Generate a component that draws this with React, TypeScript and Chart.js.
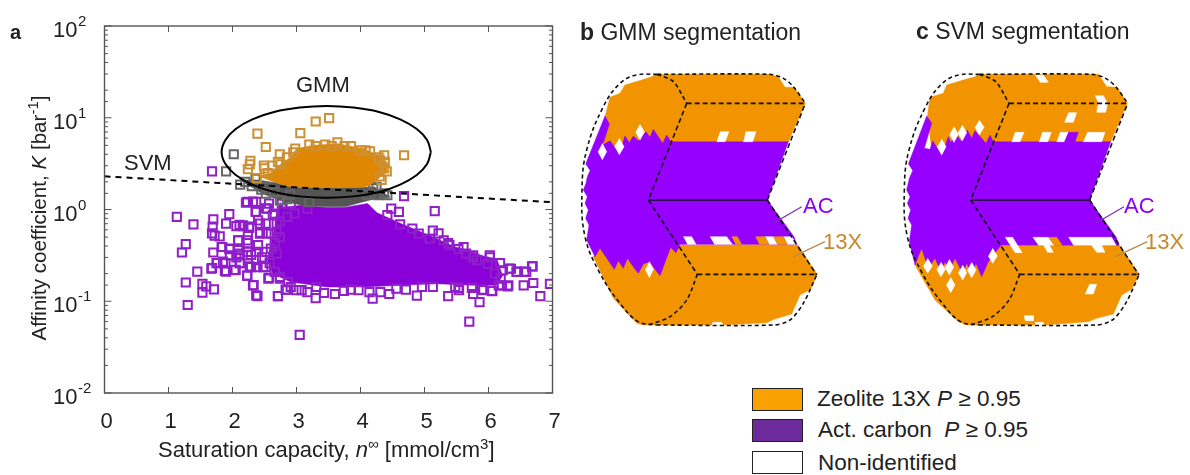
import React, { useEffect, useLayoutEffect, useRef } from "react";
import { Chart, registerables } from "chart.js";

Chart.register(...registerables);

type P = [number, number];

const xTickValues = [0, 1, 2, 3, 4, 5, 6, 7];
const yDecades = [0.01, 0.1, 1, 10, 100];
const yExponents = ["-2", "-1", "0", "1", "2"];

const svmBoundary: P[] = [[0, 2.3], [7, 1.2]];
const gmmEllipse: P[] = [[5.1, 4.24], [5.04, 5.73], [4.88, 7.55], [4.62, 9.62], [4.29, 11.56], [3.89, 12.9], [3.47, 13.4], [3.05, 12.9], [2.65, 11.56], [2.31, 9.62], [2.05, 7.55], [1.89, 5.73], [1.83, 4.24], [1.89, 3.13], [2.05, 2.38], [2.31, 1.87], [2.65, 1.55], [3.05, 1.39], [3.47, 1.34], [3.89, 1.39], [4.29, 1.55], [4.62, 1.87], [4.88, 2.38], [5.04, 3.13], [5.1, 4.24]];

const orangeCloud: P[] = [[2.4, 2.3], [2.6, 2.5], [2.69, 2.9], [2.91, 3.73], [3.0, 4.6], [3.26, 5.0], [3.65, 5.2], [4.05, 4.6], [4.28, 3.9], [4.41, 3.3], [4.41, 2.57], [4.15, 1.85], [4.05, 1.75], [3.48, 1.72], [2.91, 1.76], [2.69, 1.95]];
const greyCloud: P[] = [[2.11, 2.1], [2.4, 2.1], [2.69, 1.95], [2.91, 1.76], [3.48, 1.72], [4.05, 1.75], [4.22, 1.76], [4.46, 1.37], [4.15, 1.27], [3.77, 1.08], [3.48, 1.07], [3.08, 1.11], [2.74, 1.26], [2.46, 1.49]];
const purpleCloud: P[] = [[2.74, 1.21], [2.8, 1.06], [3.08, 1.11], [3.48, 1.05], [3.77, 1.06], [4.11, 1.16], [4.26, 0.92], [4.62, 0.71], [5.08, 0.52], [5.48, 0.39], [5.61, 0.37], [5.93, 0.31], [6.13, 0.29], [6.22, 0.19], [6.13, 0.15], [5.76, 0.149], [5.19, 0.155], [4.62, 0.149], [4.05, 0.143], [3.48, 0.143], [2.91, 0.162], [2.63, 0.2], [2.54, 0.279], [2.6, 0.425], [2.66, 0.645]];

const purplePoints: P[] = [[1.13, 0.83], [1.39, 0.69], [1.7, 0.78], [1.69, 0.65], [1.95, 0.89], [1.9, 0.7], [2.06, 0.66], [2.16, 0.67], [2.26, 0.63], [1.68, 0.55], [1.8, 0.51], [1.72, 0.52], [1.27, 0.42], [1.21, 0.34], [1.7, 0.34], [1.83, 0.39], [1.95, 0.37], [2.09, 0.46], [2.12, 0.33], [1.76, 0.26], [1.89, 0.26], [1.68, 0.23], [1.9, 0.21], [2.05, 0.22], [2.12, 0.26], [2.29, 0.235], [2.23, 0.19], [1.45, 0.21], [1.27, 0.16], [1.53, 0.155], [1.59, 0.145], [1.53, 0.124], [1.71, 0.135], [1.3, 0.091], [2.33, 0.15], [2.39, 0.114], [2.57, 0.18], [2.71, 0.114], [2.85, 0.134], [3.05, 0.043], [3.08, 0.132], [3.3, 0.108], [3.17, 0.126], [3.43, 0.123], [3.6, 0.12], [3.74, 0.13], [3.85, 0.134], [4.14, 0.126], [4.19, 0.107], [4.31, 0.126], [4.45, 0.12], [4.71, 0.134], [4.88, 0.115], [5.13, 0.143], [5.37, 0.114], [5.54, 0.132], [5.7, 0.06], [5.76, 0.12], [5.86, 0.098], [5.92, 0.132], [6.06, 0.129], [6.16, 0.149], [6.3, 0.145], [6.35, 0.226], [6.44, 0.21], [6.56, 0.21], [6.69, 0.24], [6.55, 0.149], [6.7, 0.158], [6.81, 0.114], [6.96, 0.155], [6.19, 0.176], [6.02, 0.3], [5.76, 0.3], [5.16, 0.96], [4.68, 1.4], [4.6, 0.94], [4.48, 1.02], [4.42, 0.87], [4.62, 0.69], [4.81, 0.62], [5.13, 0.59], [5.22, 0.55], [5.3, 0.46], [5.53, 0.37], [1.68, 2.6],
  [2.23, 1.21], [2.37, 1.21], [2.57, 1.16], [2.37, 0.94], [2.54, 1.02], [2.66, 0.9], [2.77, 1.16], [2.4, 0.76], [2.52, 0.7], [2.69, 0.7], [2.86, 0.83], [2.43, 0.545], [2.6, 0.545], [2.74, 0.5], [2.23, 0.46], [2.4, 0.41], [2.6, 0.375], [2.69, 0.33], [2.29, 0.32], [2.46, 0.3], [2.06, 0.3], [2.37, 0.236], [2.52, 0.236], [2.97, 0.9], [3.17, 1.02], [2.91, 1.16],
  [4.91, 0.545], [5.08, 0.48], [5.39, 0.41], [5.65, 0.33], [5.82, 0.28], [5.99, 0.256], [6.22, 0.217], [6.1, 0.2], [5.48, 0.143], [4.96, 0.143], [4.56, 0.137], [3.97, 0.132], [3.31, 0.143], [2.91, 0.143], [2.74, 0.184],
  [2.17, 0.66], [2.26, 0.65], [2.11, 0.68], [2.43, 0.7], [2.36, 0.95], [2.21, 1.19], [2.32, 1.22], [2.52, 1.03], [2.63, 0.87], [2.74, 0.74], [2.69, 0.57], [2.43, 0.56], [2.24, 0.53], [2.09, 0.46], [2.24, 0.43], [1.84, 0.39], [1.96, 0.376], [2.09, 0.36], [2.23, 0.345], [2.37, 0.345], [2.53, 0.345], [1.96, 0.316], [2.11, 0.316], [2.24, 0.316], [2.37, 0.28], [1.85, 0.27], [1.75, 0.26], [2.11, 0.26], [2.27, 0.24], [2.48, 0.236], [1.67, 0.227], [1.88, 0.214], [2.03, 0.218], [2.23, 0.19], [2.56, 0.176], [2.74, 0.176], [2.32, 0.149], [2.37, 0.116], [2.71, 0.114], [2.83, 0.134], [3.0, 0.132], [2.87, 0.162], [2.66, 0.209], [2.58, 0.26], [2.66, 0.43], [2.53, 0.55],
  [5.37, 0.43], [5.61, 0.39], [5.76, 0.316], [6.02, 0.316], [6.18, 0.26], [6.33, 0.227], [6.44, 0.209], [6.59, 0.209], [6.68, 0.24], [6.31, 0.149], [6.21, 0.149], [5.9, 0.134], [6.05, 0.13], [5.74, 0.14], [5.53, 0.14]];
const orangePoints: P[] = [[3.51, 9.9], [3.3, 9.1], [2.39, 6.7], [3.06, 6.8], [2.52, 4.8], [2.74, 4.0], [4.68, 3.9], [2.28, 3.4], [2.27, 3.1], [2.24, 2.75], [2.49, 3.0], [2.5, 2.8], [2.71, 3.3], [2.98, 4.6], [3.2, 5.1], [3.45, 5.1], [3.64, 5.4], [3.85, 4.9], [4.08, 4.4], [4.37, 3.9], [4.28, 3.7], [4.37, 2.8], [4.33, 2.1],
  [2.38, 2.2], [2.55, 2.5], [2.62, 3.0], [2.75, 3.1], [2.85, 3.7], [2.95, 4.2], [3.3, 4.9], [3.55, 4.9], [3.75, 4.9], [4.0, 4.4], [4.15, 4.3], [4.3, 3.5], [4.38, 3.3], [4.41, 2.6], [4.3, 2.3]];
const greyPoints: P[] = [[2.02, 4.0], [1.9, 2.6], [2.12, 1.87], [2.36, 2.16], [2.2, 2.0], [2.52, 1.49], [2.74, 1.26], [4.42, 1.43], [4.28, 1.43], [4.25, 1.76], [2.3, 1.8], [2.45, 1.65], [2.65, 1.55], [2.55, 1.75], [2.9, 1.45], [3.2, 1.2], [4.1, 1.45], [4.37, 1.5], [4.2, 1.7], [2.85, 1.3]];

// Segmentation panels, in the drawing units of the panels
const outerLeft: P[] = [[262, 193], [200, 195], [150, 220], [100, 290], [50, 420], [36, 540], [45, 680], [90, 790], [150, 880], [205, 935], [260, 945]];
const outerTop: P[] = [[262, 193], [600, 193], [640, 205], [670, 230], [706, 280]];
const outerBottom: P[] = [[260, 945], [610, 945], [660, 930], [700, 880], [740, 795]];
const faceTop: P[] = [[262, 193], [310, 215], [350, 280]];
const faceBottom: P[] = [[382, 793], [350, 870], [300, 920], [235, 945]];
const straightEdges: P[][] = [[[350, 280], [706, 280]], [[350, 280], [235, 570]], [[592, 570], [740, 795]], [[235, 570], [382, 793]], [[382, 793], [740, 793]], [[592, 570], [706, 280]]];
const innerEdge: P[] = [[235, 570], [592, 570]];
const acLeader: P[] = [[695, 590], [610, 640]];
const x13Leader: P[] = [[765, 695], [670, 740]];

const bOrangeTop: P[] = [[105, 320], [120, 262], [150, 250], [165, 225], [215, 210], [245, 200], [262, 193], [600, 193], [625, 200], [645, 232], [672, 232], [706, 280], [655, 395], [300, 395], [130, 440], [100, 405]];
const bOrangeLow: P[] = [[330, 705], [682, 703], [742, 793], [722, 838], [690, 855], [665, 912], [612, 928], [590, 938], [460, 945], [220, 945], [200, 940], [130, 865], [70, 740], [88, 715]];
const bPurple: P[] = [[47, 462], [105, 318], [118, 342], [98, 405], [120, 392], [148, 432], [165, 378], [178, 398], [190, 378], [205, 392], [228, 365], [240, 382], [250, 358], [278, 400], [290, 375], [303, 395], [655, 395], [592, 570], [672, 680], [680, 703], [330, 703], [318, 728], [302, 712], [270, 797], [238, 755], [220, 762], [205, 790], [190, 770], [172, 745], [160, 775], [145, 752], [133, 778], [90, 715], [75, 740], [50, 690], [57, 645], [47, 625], [55, 600], [45, 580], [52, 560], [40, 540], [48, 520], [52, 500], [60, 482]];
const bWhite: P[][] = [[[450, 365], [477, 365], [465, 395], [440, 395]], [[527, 365], [558, 365], [548, 395], [520, 395]], [[210, 343], [223, 366], [210, 390], [197, 366]], [[148, 385], [162, 410], [148, 434], [134, 408]], [[97, 400], [110, 425], [97, 449], [84, 425]], [[238, 755], [250, 778], [238, 803], [226, 778]], [[340, 680], [365, 680], [378, 703], [352, 703]], [[420, 680], [470, 680], [487, 703], [433, 703]], [[585, 680], [610, 680], [622, 703], [597, 703]], [[640, 680], [665, 680], [680, 703], [652, 703]], [[428, 937], [455, 937], [458, 945], [426, 945]]];
const bOrangeBits: P[][] = [[[485, 680], [502, 680], [515, 703], [497, 703]], [[556, 680], [585, 680], [597, 703], [568, 703]], [[610, 680], [640, 680], [652, 703], [622, 703]]];

const cOrangeTop: P[] = [[105, 320], [113, 262], [153, 250], [163, 225], [213, 210], [248, 200], [263, 193], [618, 193], [643, 230], [675, 232], [705, 280], [655, 395], [303, 395], [120, 440]];
const cOrangeLow: P[] = [[328, 705], [681, 705], [741, 793], [718, 838], [688, 855], [663, 912], [613, 925], [588, 935], [458, 945], [223, 945], [198, 935], [128, 870], [68, 765], [88, 715]];
const cPurple: P[] = [[48, 462], [103, 318], [118, 340], [96, 415], [113, 418], [121, 392], [148, 435], [168, 380], [175, 397], [193, 375], [208, 395], [225, 360], [238, 385], [248, 362], [281, 400], [293, 375], [303, 395], [655, 395], [592, 570], [672, 682], [680, 706], [328, 705], [321, 712], [288, 755], [268, 800], [251, 760], [238, 790], [223, 760], [211, 790], [188, 745], [171, 780], [158, 755], [146, 785], [128, 745], [108, 775], [88, 715], [68, 765], [51, 695], [58, 645], [47, 625], [55, 600], [45, 580], [53, 560], [43, 540], [51, 505], [61, 482]];
const cWhite: P[][] = [[[148, 387], [161, 410], [148, 435], [135, 410]], [[185, 350], [198, 373], [185, 397], [172, 373]], [[210, 345], [223, 368], [210, 392], [197, 368]], [[261, 330], [275, 352], [261, 375], [248, 352]], [[368, 367], [395, 367], [383, 395], [358, 395]], [[450, 367], [477, 367], [466, 395], [440, 395]], [[503, 367], [528, 367], [516, 395], [493, 395]], [[585, 367], [638, 367], [628, 395], [573, 395]], [[528, 308], [553, 308], [543, 337], [516, 337]], [[428, 195], [453, 195], [468, 217], [443, 217]], [[608, 257], [633, 257], [646, 280], [640, 307], [613, 307], [618, 280]], [[591, 823], [613, 823], [603, 852], [578, 852]], [[395, 917], [423, 917], [423, 932], [398, 932]], [[428, 937], [453, 937], [455, 945], [428, 945]], [[338, 682], [361, 682], [389, 728], [368, 728]], [[421, 682], [468, 682], [485, 706], [438, 706]], [[453, 706], [471, 706], [483, 727], [465, 727]], [[528, 682], [658, 682], [671, 706], [628, 706], [638, 727], [613, 727], [598, 706], [543, 706]], [[301, 715], [315, 738], [301, 760], [288, 738]], [[106, 745], [120, 768], [106, 790], [93, 768]], [[146, 757], [159, 778], [146, 800], [133, 778]], [[171, 748], [184, 772], [171, 795], [158, 772]], [[211, 765], [223, 788], [211, 810], [198, 788]], [[238, 757], [251, 780], [238, 803], [225, 780]], [[175, 802], [188, 825], [175, 848], [162, 825]]];
const cOrangeBits: P[][] = [[[468, 682], [493, 682], [510, 706], [485, 706]]];
const cPurpleBits: P[][] = [[[528, 367], [558, 367], [548, 395], [516, 395]]];

const ORANGE = "#f29400";
const PURPLE = "#9500ff";
const FONT = "'Liberation Sans', Arial, sans-serif";

const toXY = (pts: P[]) => pts.map(([x, y]) => ({ x, y }));

function poly(pts: P[], color: string) {
  return { type: "line", data: toXY(pts), showLine: true, fill: "shape", backgroundColor: color, borderColor: color, borderWidth: 0.5, pointRadius: 0, tension: 0 };
}
function stroke(pts: P[], color = "#000", width = 1.5, dash: number[] = [5, 3], tension = 0) {
  return { type: "line", data: toXY(pts), showLine: true, fill: false, borderColor: color, borderWidth: width, borderDash: dash, pointRadius: 0, tension };
}
function squares(pts: P[], color: string, order: number) {
  return { type: "scatter", data: toXY(pts), order, showLine: false, pointStyle: "rect", pointRadius: 5.8, pointBorderWidth: 2, pointBorderColor: color, pointBackgroundColor: "rgba(0,0,0,0)" };
}

const frameAndTicks = {
  id: "frameAndTicks",
  afterDatasetsDraw(chart: any) {
    const { ctx, chartArea: a, scales } = chart;
    ctx.save();
    ctx.strokeStyle = "#555";
    ctx.lineWidth = 1.4;
    ctx.strokeRect(a.left, a.top, a.right - a.left, a.bottom - a.top);
    ctx.lineWidth = 1;
    ctx.beginPath();
    scales.x.ticks.forEach((t: any) => {
      const px = scales.x.getPixelForValue(t.value);
      ctx.moveTo(px, a.bottom); ctx.lineTo(px, a.bottom - 6);
      ctx.moveTo(px, a.top); ctx.lineTo(px, a.top + 6);
    });
    scales.y.ticks.forEach((t: any) => {
      const py = scales.y.getPixelForValue(t.value);
      const len = yDecades.includes(t.value) ? 7 : 3.5;
      ctx.moveTo(a.left, py); ctx.lineTo(a.left + len, py);
      ctx.moveTo(a.right, py); ctx.lineTo(a.right - len, py);
    });
    ctx.stroke();
    ctx.fillStyle = "#222";
    ctx.font = `15px ${FONT}`;
    ctx.textAlign = "left";
    ctx.textBaseline = "alphabetic";
    yDecades.forEach((d, i) => {
      ctx.fillText(yExponents[i], 78, scales.y.getPixelForValue(d));
    });
    ctx.restore();
  },
};

function ScatterPanel() {
  const ref = useRef<HTMLCanvasElement>(null);
  useEffect(() => {
    const chart = new Chart(ref.current!, {
      type: "scatter",
      data: {
        datasets: [
          { ...poly(purpleCloud, "#8a00d8"), order: 9 },
          squares(purplePoints, "#8f1fc8", 8),
          { ...poly(greyCloud, "#555555"), order: 7 },
          squares(greyPoints, "#666666", 6),
          { ...poly(orangeCloud, "#df8700"), order: 5 },
          squares(orangePoints, "#cc8f33", 4),
          { ...stroke(gmmEllipse, "#000", 2, [], 0.4), order: 2 },
          { ...stroke(svmBoundary, "#000", 2, [6, 5]), order: 1 },
        ] as any,
      },
      options: {
        animation: false,
        responsive: false,
        layout: { padding: { top: 26, right: 17.5, left: 0, bottom: 0 } },
        plugins: { legend: { display: false }, tooltip: { enabled: false } },
        scales: {
          x: {
            type: "linear", min: 0, max: 7,
            afterBuildTicks: (s: any) => { s.ticks = xTickValues.map((value) => ({ value })); },
            afterFit: (s: any) => { s.height = 82; s.paddingLeft = 0; s.paddingRight = 0; },
            grid: { display: false }, border: { display: false },
            ticks: { color: "#222", font: { family: "Liberation Sans", size: 22 }, padding: 8, labelOffset: 2, maxRotation: 0, autoSkip: false },
          },
          y: {
            type: "logarithmic", min: 0.01, max: 100,
            afterFit: (s: any) => { s.width = 104.5; s.paddingTop = 0; s.paddingBottom = 0; },
            grid: { display: false }, border: { display: false },
            ticks: {
              color: "#222", font: { family: "Liberation Sans", size: 22 }, padding: 19, labelOffset: 5, autoSkip: false,
              callback: (v: any) => (yDecades.includes(Number(v)) ? "10" : ""),
            },
          },
        },
      } as any,
      plugins: [frameAndTicks],
    });
    return () => chart.destroy();
  }, []);
  return <canvas ref={ref} width={570} height={475} style={{ position: "absolute", left: 0, top: 0 }} />;
}

function SegPanel({ left, shift, top, low, purple, white, orangeBits, purpleBits }: { left: number; shift: number; top: P[]; low: P[]; purple: P[]; white: P[][]; orangeBits: P[][]; purpleBits: P[][] }) {
  const ref = useRef<HTMLCanvasElement>(null);
  useEffect(() => {
    const ds: any[] = [
      poly(top, ORANGE), poly(low, ORANGE), poly(purple, PURPLE),
      ...white.map((p) => poly(p, "#ffffff")),
      ...orangeBits.map((p) => poly(p, ORANGE)),
      ...purpleBits.map((p) => poly(p, PURPLE)),
      stroke(outerLeft, "#111", 1.6, [4, 3], 0.4), stroke(outerTop, "#111", 1.6, [4, 3], 0.3), stroke(outerBottom, "#111", 1.6, [4, 3], 0.3),
      stroke(faceTop, "#111", 1.6, [4, 3], 0.3), stroke(faceBottom, "#111", 1.6, [4, 3], 0.3),
      ...straightEdges.map((p) => stroke(p, "#111", 1.6)),
      stroke(innerEdge, "#111", 1.6, []),
      stroke(acLeader, "#7d2ab5", 1.2, []), stroke(x13Leader, "#b58a4e", 1.2, []),
    ];
    ds.forEach((d, i) => { d.order = ds.length - i; });
    const chart = new Chart(ref.current!, {
      type: "scatter",
      data: { datasets: ds },
      options: {
        animation: false, responsive: false,
        layout: { padding: 0 },
        plugins: { legend: { display: false }, tooltip: { enabled: false } },
        scales: {
          x: { type: "linear", display: false, min: -shift, max: 930 - shift },
          y: { type: "linear", display: false, min: 0, max: 990, reverse: true },
        },
      } as any,
    });
    return () => chart.destroy();
  }, []);
  return <canvas ref={ref} width={310} height={330} style={{ position: "absolute", left, top: 10 }} />;
}

const text = (left: number, top: number, extra: React.CSSProperties = {}): React.CSSProperties => ({
  position: "absolute", left, top, fontFamily: FONT, fontSize: 22, lineHeight: "26px", whiteSpace: "nowrap", color: "#222", ...extra,
});
const sup: React.CSSProperties = { fontSize: 15, verticalAlign: "8px", lineHeight: 0 };
const swatch = (top: number, bg: string): React.CSSProperties => ({
  position: "absolute", left: 752, top, width: 49, height: 21, background: bg, border: "1.5px solid #222",
});

export default function App() {
  useLayoutEffect(() => { document.body.style.margin = "0"; }, []);
  return (
    <div style={{ position: "relative", width: 1190, height: 475, overflow: "hidden", background: "#fff" }}>
      <ScatterPanel />
      <SegPanel left={570} shift={0} top={bOrangeTop} low={bOrangeLow} purple={bPurple} white={bWhite} orangeBits={bOrangeBits} purpleBits={[]} />
      <SegPanel left={880} shift={37} top={cOrangeTop} low={cOrangeLow} purple={cPurple} white={cWhite} orangeBits={cOrangeBits} purpleBits={cPurpleBits} />
      <div style={text(10, 19, { fontWeight: 700, fontSize: 20 })}>a</div>
      <div style={text(296, 72)}>GMM</div>
      <div style={text(124, 150)}>SVM</div>
      <div style={text(158, 437)}>Saturation capacity, <i>n</i><sup style={sup}>∞</sup> [mmol/cm<sup style={sup}>3</sup>]</div>
      <div style={text(39, 218, { fontSize: 20.6, transform: "translate(-50%,-50%) rotate(-90deg)" })}>Affinity coefficient, <i>K</i> [bar<sup style={sup}>-1</sup>]</div>
      <div style={text(580, 19, { fontSize: 23 })}><b>b</b> GMM segmentation</div>
      <div style={text(916, 18, { fontSize: 23 })}><b>c</b> SVM segmentation</div>
      <div style={text(803, 193, { color: "#8a00f0" })}>AC</div>
      <div style={text(823, 229, { color: "#c9862d" })}>13X</div>
      <div style={text(1124, 193, { color: "#8a00f0" })}>AC</div>
      <div style={text(1145, 229, { color: "#c9862d" })}>13X</div>
      <div style={swatch(388, "#f9a100")} />
      <div style={swatch(419, "#6c2a9b")} />
      <div style={swatch(451, "#ffffff")} />
      <div style={text(817, 386, { fontSize: 22.5 })}>Zeolite 13X <i>P</i> ≥ 0.95</div>
      <div style={text(818, 417, { fontSize: 22.5 })}>Act. carbon&nbsp; <i>P</i> ≥ 0.95</div>
      <div style={text(818, 450, { fontSize: 22.5 })}>Non-identified</div>
    </div>
  );
}
